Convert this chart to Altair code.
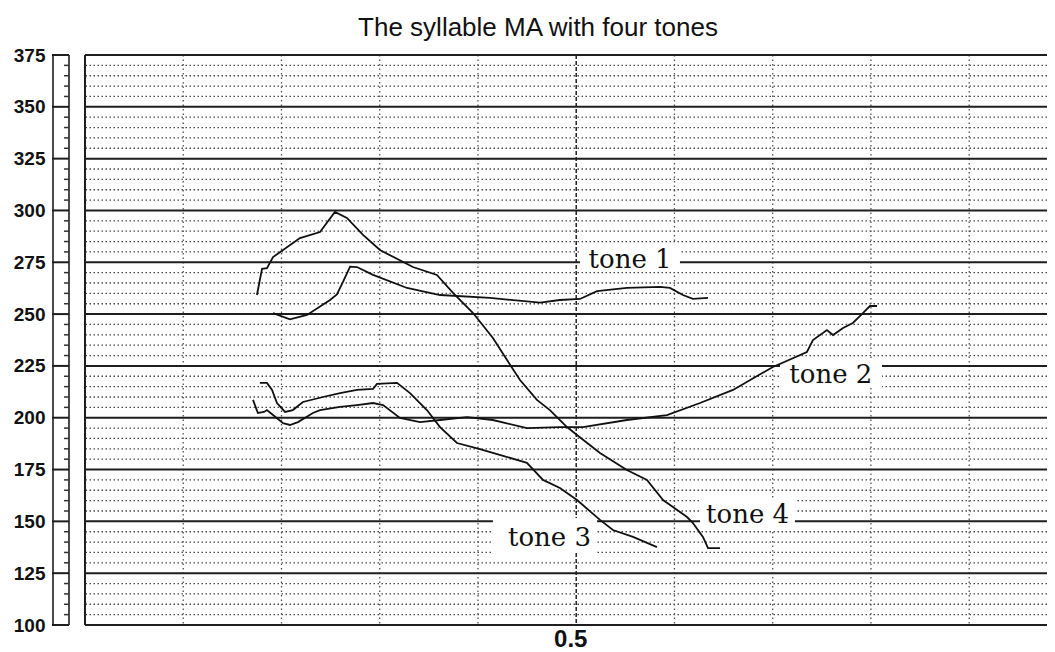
import altair as alt
import pandas as pd

# ---- data (time in s, F0 in Hz) ----
tone1_t = [0.3457, 0.3543, 0.3630, 0.3747, 0.3782, 0.3813, 0.3849, 0.3884, 0.3966, 0.4139,
           0.4307, 0.4561, 0.4816, 0.4917, 0.5019, 0.5106, 0.5258, 0.5426, 0.5477, 0.5543,
           0.5594, 0.5671]
tone1_hz = [250.5, 247.5, 249.6, 256.8, 259.5, 265.5, 272.9, 272.7, 268.9, 262.6,
            259.2, 257.8, 255.5, 256.8, 257.3, 261.1, 262.6, 263.1, 262.6, 259.2,
            257.3, 257.8]

tone2_t = [0.3355, 0.3380, 0.3411, 0.3426, 0.3457, 0.3508, 0.3543, 0.3584, 0.3660, 0.3696,
           0.3798, 0.3884, 0.3966, 0.4017, 0.4103, 0.4205, 0.4307, 0.4444, 0.4576, 0.4749,
           0.4917, 0.5034, 0.5258, 0.5462, 0.5630, 0.5798, 0.6001, 0.6174, 0.6205, 0.6276,
           0.6307, 0.6358, 0.6408, 0.6459, 0.6495, 0.6531]
tone2_hz = [208.6, 202.3, 202.8, 203.7, 201.3, 197.4, 196.5, 197.9, 202.3, 203.7,
            205.2, 206.1, 207.1, 206.1, 199.9, 197.9, 198.9, 200.3, 198.9, 195.0,
            195.5, 195.5, 198.9, 201.3, 207.1, 213.4, 224.5, 231.7, 237.5, 242.3,
            239.9, 243.3, 245.7, 250.5, 253.9, 253.9]

tone3_t = [0.3390, 0.3426, 0.3452, 0.3477, 0.3518, 0.3558, 0.3609, 0.3711, 0.3798, 0.3884,
           0.3966, 0.3986, 0.4088, 0.4154, 0.4240, 0.4307, 0.4393, 0.4510, 0.4628, 0.4749,
           0.4831, 0.4917, 0.5004, 0.5121, 0.5187, 0.5289, 0.5411]
tone3_hz = [216.8, 216.8, 213.4, 207.1, 202.8, 203.7, 207.6, 210.0, 211.9, 213.4,
            213.9, 216.3, 216.8, 211.9, 203.7, 195.5, 187.8, 184.9, 181.6, 178.2,
            170.0, 166.1, 160.3, 150.7, 145.8, 142.5, 137.6]

tone4_t = [0.3375, 0.3401, 0.3426, 0.3457, 0.3594, 0.3696, 0.3772, 0.3833, 0.3915, 0.4001,
           0.4169, 0.4291, 0.4373, 0.4475, 0.4576, 0.4648, 0.4714, 0.4800, 0.4866, 0.4953,
           0.5004, 0.5121, 0.5258, 0.5360, 0.5442, 0.5564, 0.5594, 0.5645, 0.5671, 0.5732]
tone4_hz = [259.2, 271.8, 272.2, 277.5, 286.7, 289.6, 299.3, 296.4, 288.2, 280.9,
            272.7, 268.9, 260.2, 250.5, 238.5, 227.8, 218.2, 208.6, 203.7, 195.5,
            191.7, 183.0, 174.8, 170.0, 160.3, 152.1, 149.2, 142.5, 137.1, 137.1]

# labels of the tones (text anchor at centre / baseline) and their white boxes
label_text = ["tone 1", "tone 2", "tone 3", "tone 4"]
label_t = [0.5274, 0.6296, 0.4864, 0.5872]
label_hz = [272.0, 216.8, 138.1, 149.2]
box_t0 = [0.5019, 0.6037, 0.4576, 0.5630]
box_t1 = [0.5528, 0.6556, 0.5106, 0.6113]
box_hz0 = [270.3, 214.3, 134.7, 145.8]
box_hz1 = [284.0, 228.8, 151.6, 160.3]

major_hz = [100, 125, 150, 175, 200, 225, 250, 275, 300, 325, 350, 375]
minor_hz = [v for v in range(100, 376, 5) if v % 25 != 0]
grid_t = [0.30, 0.35, 0.40, 0.45, 0.55, 0.60, 0.65, 0.70]
axis_t = [0.5]
x_domain = [0.25, 0.7396]
y_domain = [100, 375]

W, H = 962, 570

rows = []
for name, ts, hs in [("tone 1", tone1_t, tone1_hz), ("tone 2", tone2_t, tone2_hz),
                     ("tone 3", tone3_t, tone3_hz), ("tone 4", tone4_t, tone4_hz)]:
    for i, (t, h) in enumerate(zip(ts, hs)):
        rows.append({"tone": name, "t": t, "hz": h, "i": i})
curves = pd.DataFrame(rows)
labels = pd.DataFrame({"text": label_text, "t": label_t, "hz": label_hz,
                       "t0": box_t0, "t1": box_t1, "h0": box_hz0, "h1": box_hz1})
majors = pd.DataFrame({"hz": major_hz})
minors = pd.DataFrame({"hz": minor_hz})
vgrid = pd.DataFrame({"t": grid_t})
vaxis = pd.DataFrame({"t": axis_t})

xs = alt.Scale(domain=x_domain, nice=False, zero=False)
ys = alt.Scale(domain=y_domain, nice=False, zero=False)

x_axis = alt.Axis(values=axis_t, domain=False, ticks=False, grid=False, labelPadding=2,
                  labelOffset=-6, labelFontSize=24, labelFont="Liberation Sans",
                  labelFontWeight="bold", labelColor="#111111", format=".1f", title=None)
y_axis = alt.Axis(values=major_hz, domain=False, ticks=False, grid=False, labelPadding=40,
                  labelFontSize=19, labelFont="Liberation Sans", labelFontWeight="bold",
                  labelColor="#111111", title=None)


def X(f="t"):
    return alt.X(f"{f}:Q", scale=xs, axis=x_axis, title=None)


def Y(f="hz"):
    return alt.Y(f"{f}:Q", scale=ys, axis=y_axis, title=None)


minor_lines = alt.Chart(minors).mark_rule(color="#4a4a4a", strokeWidth=1.3, strokeDash=[1.5, 2.5]).encode(y=Y())
vgrid_lines = alt.Chart(vgrid).mark_rule(color="#555555", strokeWidth=1.3, strokeDash=[1.5, 3]).encode(x=X())
major_lines = alt.Chart(majors).mark_rule(color="#1e1e1e", strokeWidth=2).encode(y=Y())
axis_line = alt.Chart(vaxis).mark_rule(color="#222222", strokeWidth=1.5, strokeDash=[4, 2]).encode(x=X())
left_border = alt.Chart(vaxis).mark_rule(color="#1e1e1e", strokeWidth=2).encode(
    x=alt.value(0), y=alt.value(0), y2=alt.value(H))

# axis strip left of the plot
strip_left = alt.Chart(vaxis).mark_rule(color="#1e1e1e", strokeWidth=1.6).encode(
    x=alt.value(-32), y=alt.value(0), y2=alt.value(H))
strip_right = alt.Chart(vaxis).mark_rule(color="#1e1e1e", strokeWidth=1.6).encode(
    x=alt.value(-16), y=alt.value(0), y2=alt.value(H))
strip_major = alt.Chart(majors).mark_rule(color="#1e1e1e", strokeWidth=2).encode(
    y=Y(), x=alt.value(-33), x2=alt.value(-16))
strip_minor = alt.Chart(minors).mark_rule(color="#333333", strokeWidth=1.5).encode(
    y=Y(), x=alt.value(-21), x2=alt.value(-16))

boxes = alt.Chart(labels).mark_rect(color="white").encode(
    x=X("t0"), x2="t1:Q", y=Y("h0"), y2="h1:Q")
texts = alt.Chart(labels).mark_text(font="DejaVu Serif", fontSize=26, color="#111111",
                                    align="center", baseline="alphabetic").encode(
    x=X(), y=Y(), text="text:N")

lines = alt.Chart(curves).mark_line(color="#111111", strokeWidth=1.8, interpolate="linear").encode(
    x=X(), y=Y(), detail="tone:N", order="i:Q")

chart = alt.layer(
    minor_lines, vgrid_lines, major_lines, axis_line, left_border,
    strip_left, strip_right, strip_major, strip_minor,
    boxes, texts, lines
).properties(
    width=W, height=H,
    title=alt.TitleParams("The syllable MA with four tones", fontSize=26, font="Liberation Sans",
                          fontWeight="normal", color="#111111", anchor="middle", dx=-28, offset=5),
    autosize=alt.AutoSizeParams(type="none"),
    padding={"left": 77, "top": 47, "right": 0, "bottom": 25},
).configure_view(stroke=None).configure(background="white")

chart.save("out.html", embed_options={"renderer": "svg", "actions": False})
